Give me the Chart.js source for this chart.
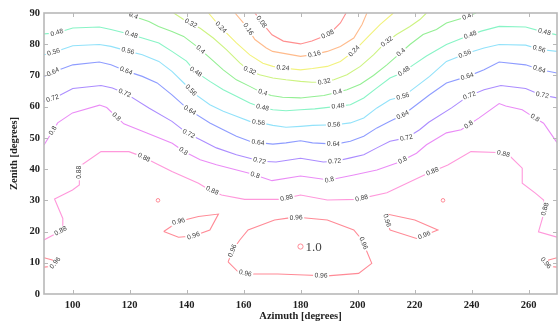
<!DOCTYPE html>
<html>
<head>
<meta charset="utf-8">
<script src="https://cdn.jsdelivr.net/npm/chart.js@4.4.0/dist/chart.umd.min.js"></script>
<style>
  html, body { margin: 0; padding: 0; background: #fff; overflow: hidden; }
</style>
</head>
<body>
<canvas id="contourChart" width="562" height="329"></canvas>
<script>
// ticks
const azimuthTicks = [100, 120, 140, 160, 180, 200, 220, 240, 260];
const zenithTicks = [0, 10, 20, 30, 40, 50, 60, 70, 80, 90];

// contour lines, [azimuth, zenith] pairs
const line008 = [[164,90],[167,86.3],[170,83],[174,81],[180,80.1],[184,81],[188,82.5],[190.5,83.6],[194,86.8],[196,90]];
const line016 = [[157,90],[161,85.7],[164,81.5],[168,78.8],[170.2,77.7],[180,76.1],[184,76.6],[189.4,77.7],[194,79.3],[198.7,82],[201.6,86.3],[203.3,90]];
const line024 = [[147.7,90],[151.7,85.7],[157.5,80.4],[162.2,76.6],[166.8,73.9],[170.3,72.9],[173.7,72.4],[180,71.8],[184.2,72.2],[189.4,72.9],[194,74.5],[198.7,77.7],[203.3,82],[207.9,86.3],[212.6,90]];
const line032 = [[135.5,90],[139,87.9],[141.3,86.8],[144.8,85.1],[149.4,82],[154,78.3],[158.7,74],[161.6,71.8],[165.6,70.2],[170.3,69.2],[174.9,68.6],[180,68.1],[184,67.8],[187.7,67.9],[191.7,68.6],[196.3,70.2],[201,72.9],[205.6,76.6],[209.7,80.4],[213.7,83.1],[218.4,85.7],[221.9,87.9],[224.2,90]];
const line040 = [[119.1,90],[123.2,88.4],[126.8,87.3],[130.2,85.7],[134.9,84.1],[139,82.5],[143.6,79.3],[148.2,75.6],[152.9,71.8],[157.5,68.6],[162.2,66.5],[165.6,64.9],[169.7,63.6],[173.7,63],[180,62.8],[184,63.2],[188.2,63.6],[191.5,64.3],[196.3,65.4],[201,67.2],[205.6,70],[210.3,73.4],[214.3,76.6],[218.4,79.9],[223,83.1],[227.7,84.7],[231.2,86.8],[237,88.4],[241.6,90]];
const line048 = [[90,83.3],[94.3,83.6],[100.1,85.2],[109.4,85.5],[113.5,84.7],[119.8,83.3],[124.5,82],[130.3,80.4],[134.9,77.7],[140,74.6],[143,71.3],[148.2,68.1],[152.9,65.4],[157.5,63.3],[162.2,61.2],[166.2,59.8],[170.3,59],[174.9,58.7],[180,59],[185,59.3],[188.2,59.6],[197.5,60.6],[202.2,62.8],[206.8,66],[211.4,69.2],[215.5,70.8],[219.6,73.4],[224.2,76.2],[231.2,79.9],[238.2,82.5],[243.4,84.2],[249.7,85.7],[259,85.5],[264.2,84.2],[270,83]];
const line056 = [[90,76.6],[93.7,77.5],[100.1,79.5],[109.4,79.9],[113.5,79.3],[119.8,77.7],[124.5,76.6],[130.3,74.5],[134.9,71.3],[140.5,66.3],[142.4,64.4],[148.2,60.6],[152.9,58.5],[157.5,56.9],[162.2,55.3],[166.2,54.8],[170.3,54],[174.9,53.4],[180,53.7],[184.2,54],[192.3,54.2],[197.5,54.8],[202.2,56.4],[206.8,59.6],[211.4,62.2],[216.1,63.3],[220.7,66.5],[225.3,69.7],[231.2,74.5],[238.7,77.2],[244.4,78.8],[249.7,79.9],[259,79.7],[264.2,78.3],[270,77.7]];
const line064 = [[90,69.7],[93.7,71.3],[100.1,73.4],[109.4,74.3],[113.5,73.4],[119.2,71.3],[124.5,69.7],[129.7,67.6],[134.9,63.8],[140.5,59.2],[148.2,54.8],[152.9,52.6],[157.5,50.5],[162.2,48.9],[166.2,48.4],[170.3,48],[174.9,48.4],[180,49.1],[184.2,48.4],[192.3,48],[197.5,48.9],[202.2,50.5],[206.8,53.2],[211.4,55.3],[216.1,57.4],[220.7,60.6],[225.3,63.8],[231.2,67.6],[238.7,69.7],[244.4,71.8],[249.7,74.3],[259,73.4],[264.2,71.8],[270,70.8]];
const line072 = [[90,61.7],[93.7,62.8],[100.1,65.8],[110,66.8],[114,66],[118.9,64.1],[126.8,59.6],[134.9,55.3],[140.1,51.6],[145.9,48.9],[150.5,46.8],[157.5,44.6],[166.2,42.5],[171.4,42.3],[180,43.5],[188,42.3],[192.3,42.5],[197.5,43.6],[202.2,44.6],[206.8,46.8],[211.4,48.9],[217.2,50],[221.8,52.6],[225,55],[233,59.6],[238.7,63.3],[244.4,65.4],[250.3,66.8],[259,65.8],[264.2,63.8],[270,62.8]];
const line080 = [[90,47.7],[94.8,54.8],[100,58],[109.5,60.5],[112,59.7],[118,54.5],[125,52],[135,48.3],[139,45.7],[144.8,43],[150.5,41.4],[162.7,38.5],[170,36.3],[180,37.8],[190,36.5],[198.7,38.1],[206.8,39.7],[214.3,42.1],[220.7,45.1],[224.2,47.8],[231.2,51.6],[236.4,52.6],[242.7,56.4],[249.7,61],[252,60.2],[257.8,59],[260.7,57.3],[265.3,54.7],[270,48.5]];
const line088 = [[90,17.3],[96.5,20.5],[96.6,24.2],[93.7,30.4],[100,33.3],[102.4,34.9],[102.4,38.1],[102.4,40.8],[110,45.6],[119.8,45.6],[124.5,44],[129.1,41.9],[134.9,39.2],[144.2,35.5],[147.1,33.9],[152.3,31.7],[160.4,30.3],[173.1,30.3],[180,31.7],[189.4,30.1],[199.8,30.3],[210.3,32.4],[224.2,38.4],[231.7,41.3],[239.8,45.6],[249.1,45.3],[253.1,44.5],[257.8,40.3],[257.8,35.5],[262.4,32.3],[265.3,30.1],[265.9,27.4],[263.5,19.9],[270,18.2]];
const line096Center = [[154.6,10.3],[156.2,14],[158.7,17.3],[161.6,20.5],[170.9,23.7],[175.5,24.3],[180,24.5],[189.4,23.7],[198.7,20.5],[201.6,17.3],[205,9.8],[200.4,6.6],[189.4,5.8],[181.3,6.1],[172,6.4],[161.6,6.4],[158.1,7.1],[154.6,10.3]];
const line096Left = [[132,20],[137.2,23.2],[144.2,24.8],[151.2,25.6],[148.2,20.5],[142.4,18.6],[137.2,18.2],[132,20]];
const line096Right = [[211.4,20.5],[209.7,25.3],[210.3,25.6],[220.1,23.7],[228.2,20.5],[220.7,17.8],[211.4,20.5]];
const line096EdgeLeft = [[90,11.6],[92.9,10.9],[94,10],[93,8.9],[90,8.6]];
const line096EdgeRight = [[270,11.6],[267.1,10.9],[266,10],[267,8.9],[270,8.6]];
const smallLoops = [[130,30],[230,30]];
const peakPoint = [180,15.2];
const peakText = '1.0';

const levelColors = {
  0.08: '#ff8f8f', 0.16: '#ffbb8c', 0.24: '#f2f27c', 0.32: '#cdf382',
  0.4: '#94ef94', 0.48: '#88f4c6', 0.56: '#92e2fa', 0.64: '#8e9cff',
  0.72: '#ab8cff', 0.8: '#ea8cf6', 0.88: '#ff98db', 0.96: '#ff8a96'
};

// which line belongs to which level, and where along it the first label sits
const contours = [
  { level: 0.08, pts: line008, start: 11 },
  { level: 0.16, pts: line016, start: 21 },
  { level: 0.24, pts: line024, start: 19 },
  { level: 0.32, pts: line032, start: 20 },
  { level: 0.4, pts: line040, start: 7 },
  { level: 0.48, pts: line048, start: 13 },
  { level: 0.56, pts: line056, start: 10 },
  { level: 0.64, pts: line064, start: 10 },
  { level: 0.72, pts: line072, start: 9 },
  { level: 0.8, pts: line080, start: 17 },
  { level: 0.88, pts: line088, start: 19 },
  { level: 0.96, pts: line096Center, start: 12 },
  { level: 0.96, pts: line096Left, start: 18 },
  { level: 0.96, pts: line096Right, start: 10 },
  { level: 0.96, pts: line096EdgeLeft, start: 13 },
  { level: 0.96, pts: line096EdgeRight, start: 13 }
];

const serifBold = { family: '"Liberation Serif", "Times New Roman", serif', weight: 'bold', size: 10.5 };

const datasets = contours.map(c => ({
  data: c.pts.map(p => ({ x: p[0], y: p[1] })),
  showLine: true,
  borderColor: levelColors[c.level],
  borderWidth: 1.1,
  pointRadius: 0,
  tension: 0,
  labelText: String(c.level),
  labelStart: c.start,
  labelGap: 76
}));

datasets.push({
  data: smallLoops.map(p => ({ x: p[0], y: p[1] })),
  showLine: false,
  pointRadius: 1.8,
  pointBorderWidth: 1,
  pointBorderColor: levelColors[0.96],
  pointBackgroundColor: 'rgba(0,0,0,0)'
});
datasets.push({
  data: [{ x: peakPoint[0], y: peakPoint[1] }],
  showLine: false,
  pointRadius: 2.6,
  pointBorderWidth: 1,
  pointBorderColor: levelColors[0.96],
  pointBackgroundColor: 'rgba(0,0,0,0)',
  peakLabel: peakText
});

// inline labels on the contour lines
const contourLabels = {
  id: 'contourLabels',
  afterDatasetsDraw(chart) {
    const ctx = chart.ctx;
    ctx.save();
    ctx.font = '6.7px "Liberation Sans", Arial, sans-serif';
    ctx.textAlign = 'center';
    ctx.textBaseline = 'middle';
    chart.data.datasets.forEach((ds, i) => {
      const els = chart.getDatasetMeta(i).data;
      if (ds.peakLabel) {
        ctx.save();
        ctx.font = '13px "Liberation Serif", "Times New Roman", serif';
        ctx.fillStyle = '#444';
        ctx.textAlign = 'left';
        ctx.fillText(ds.peakLabel, els[0].x + 5, els[0].y + 1);
        ctx.restore();
        return;
      }
      if (!ds.labelText) return;
      const pts = els.map(p => [p.x, p.y]);
      const segs = [];
      let total = 0;
      for (let k = 1; k < pts.length; k++) {
        const dx = pts[k][0] - pts[k - 1][0], dy = pts[k][1] - pts[k - 1][1];
        const len = Math.hypot(dx, dy);
        segs.push({ k, len, start: total, dx, dy });
        total += len;
      }
      for (let s = ds.labelStart; s < total - 3; s += ds.labelGap) {
        const seg = segs.find(g => s <= g.start + g.len) || segs[segs.length - 1];
        const t = seg.len ? (s - seg.start) / seg.len : 0;
        const x = pts[seg.k - 1][0] + seg.dx * t;
        const y = pts[seg.k - 1][1] + seg.dy * t;
        let ang = Math.atan2(seg.dy, seg.dx);
        if (ang > Math.PI / 2) ang -= Math.PI;
        else if (ang < -Math.PI / 2) ang += Math.PI;
        ctx.save();
        ctx.translate(x, y);
        ctx.rotate(ang);
        const w = ctx.measureText(ds.labelText).width;
        ctx.fillStyle = '#fff';
        ctx.fillRect(-w / 2 - 1.5, -3.5, w + 3, 7);
        ctx.fillStyle = '#3a3a3a';
        ctx.fillText(ds.labelText, 0, 0);
        ctx.restore();
      }
    });
    ctx.restore();
  }
};

// box round the plot with inward tick marks
const frameBox = {
  id: 'frameBox',
  afterDraw(chart) {
    const { ctx, chartArea: a, scales } = chart;
    ctx.save();
    ctx.strokeStyle = '#b8b8b8';
    ctx.lineWidth = 1.6;
    ctx.strokeRect(a.left, a.top, a.right - a.left, a.bottom - a.top);
    ctx.lineWidth = 1;
    ctx.beginPath();
    azimuthTicks.forEach(v => {
      const x = Math.round(scales.x.getPixelForValue(v)) + 0.5;
      ctx.moveTo(x, a.bottom); ctx.lineTo(x, a.bottom - 4);
      ctx.moveTo(x, a.top); ctx.lineTo(x, a.top + 4);
    });
    zenithTicks.slice(1, -1).forEach(v => {
      const y = Math.round(scales.y.getPixelForValue(v)) + 0.5;
      ctx.moveTo(a.left, y); ctx.lineTo(a.left + 4, y);
      ctx.moveTo(a.right, y); ctx.lineTo(a.right - 4, y);
    });
    ctx.stroke();
    ctx.restore();
  }
};

const ctx = document.getElementById('contourChart').getContext('2d');
new Chart(ctx, {
  type: 'scatter',
  data: { datasets: datasets },
  options: {
    responsive: false,
    animation: false,
    layout: { padding: { top: 13, right: 0, bottom: 0, left: 0 } },
    plugins: { legend: { display: false }, tooltip: { enabled: false } },
    scales: {
      x: {
        type: 'linear', min: 90, max: 270,
        afterBuildTicks: s => { s.ticks = azimuthTicks.map(v => ({ value: v })); },
        afterFit: s => { s.height = 35; },
        grid: { display: false, drawTicks: false },
        border: { display: false },
        ticks: { font: serifBold, color: '#222', padding: 5, maxRotation: 0, autoSkip: false },
        title: { display: true, text: 'Azimuth [degrees]', font: serifBold, color: '#222', padding: { top: 0, bottom: 6 } }
      },
      y: {
        type: 'linear', min: 0, max: 90,
        afterBuildTicks: s => { s.ticks = zenithTicks.map(v => ({ value: v })); },
        afterFit: s => { s.width = 44; },
        grid: { display: false, drawTicks: false },
        border: { display: false },
        ticks: { font: serifBold, color: '#222', padding: 4 },
        title: { display: true, text: 'Zenith [degrees]', font: serifBold, color: '#222', padding: { top: 8, bottom: 0 } }
      }
    }
  },
  plugins: [contourLabels, frameBox]
});
</script>
</body>
</html>
